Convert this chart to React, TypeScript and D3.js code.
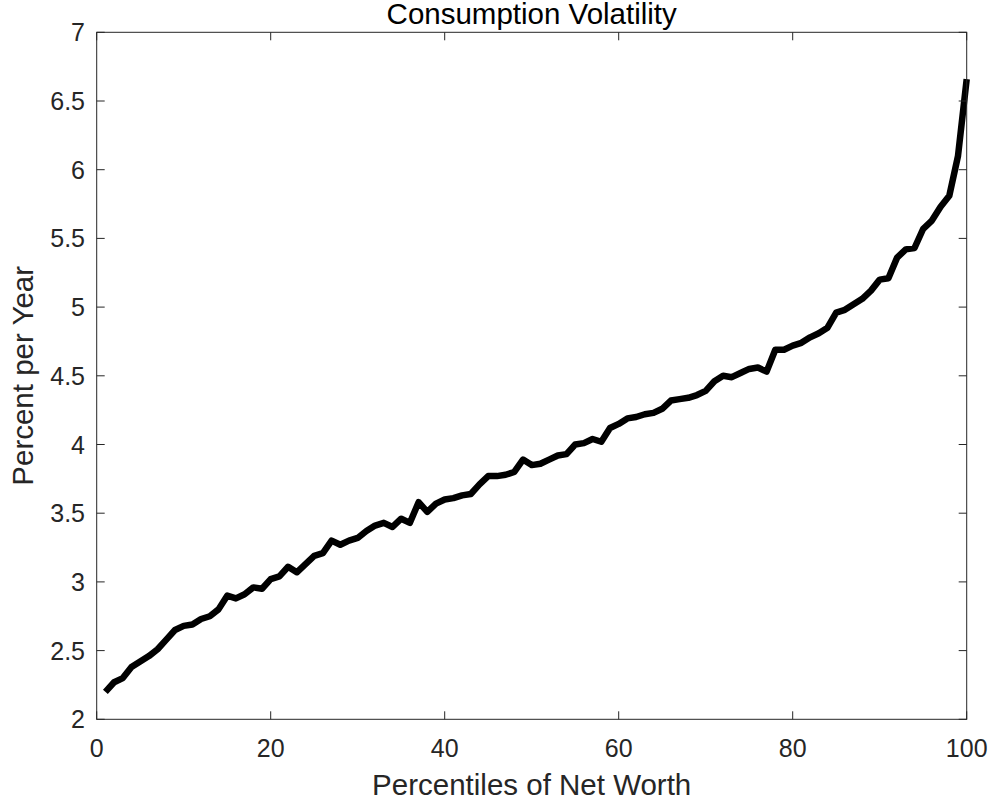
import React from "react";
import * as d3 from "d3";

const percentiles: number[] = Array.from({ length: 100 }, (_, i) => i + 1);
const volatility: number[] = [
  2.20, 2.27, 2.30, 2.38, 2.42, 2.46, 2.51, 2.58, 2.65, 2.68,
  2.69, 2.73, 2.75, 2.80, 2.90, 2.88, 2.91, 2.96, 2.95, 3.02,
  3.04, 3.11, 3.07, 3.13, 3.19, 3.21, 3.30, 3.27, 3.30, 3.32,
  3.37, 3.41, 3.43, 3.40, 3.46, 3.43, 3.58, 3.51, 3.57, 3.60,
  3.61, 3.63, 3.64, 3.71, 3.77, 3.77, 3.78, 3.80, 3.89, 3.85,
  3.86, 3.89, 3.92, 3.93, 4.00, 4.01, 4.04, 4.02, 4.12, 4.15,
  4.19, 4.20, 4.22, 4.23, 4.26, 4.32, 4.33, 4.34, 4.36, 4.39,
  4.46, 4.50, 4.49, 4.52, 4.55, 4.56, 4.53, 4.69, 4.69, 4.72,
  4.74, 4.78, 4.81, 4.85, 4.96, 4.98, 5.02, 5.06, 5.12, 5.20,
  5.21, 5.36, 5.42, 5.43, 5.57, 5.63, 5.73, 5.81, 6.10, 6.66,
];
const xTicks: number[] = [0, 20, 40, 60, 80, 100];
const yTicks: number[] = [2, 2.5, 3, 3.5, 4, 4.5, 5, 5.5, 6, 6.5, 7];
const title = "Consumption Volatility";
const xLabel = "Percentiles of Net Worth";
const yLabel = "Percent per Year";

const W = 995;
const H = 805;
const L = 96.7;
const R = 966.7;
const T = 32.3;
const B = 719.3;
const AX = "#262626";
const FONT = "Arial, 'Liberation Sans', Helvetica, sans-serif";

export default function App() {
  const x = d3.scaleLinear().domain([0, 100]).range([L, R]);
  const y = d3.scaleLinear().domain([2, 7]).range([B, T]);
  const line = d3
    .line<number>()
    .x((_, i) => x(percentiles[i]))
    .y((d) => y(d));
  const tl = 8;
  return (
    <svg
      width={W}
      height={H}
      style={{ position: "absolute", left: 0, top: 0, background: "#fff" }}
      fontFamily={FONT}
    >
      <rect x={0} y={0} width={W} height={H} fill="#fff" />
      <path
        d={line(volatility) || ""}
        fill="none"
        stroke="#000"
        strokeWidth={6.5}
        strokeLinejoin="round"
        strokeLinecap="butt"
      />
      <rect x={L} y={T} width={R - L} height={B - T} fill="none" stroke={AX} strokeWidth={1} />
      {xTicks.map((t) => (
        <g key={"x" + t}>
          <line x1={x(t)} x2={x(t)} y1={B} y2={B - tl} stroke={AX} />
          <line x1={x(t)} x2={x(t)} y1={T} y2={T + tl} stroke={AX} />
          <text x={x(t)} y={757} textAnchor="middle" fontSize={25} fill={AX}>
            {t}
          </text>
        </g>
      ))}
      {yTicks.map((t) => (
        <g key={"y" + t}>
          <line x1={L} x2={L + tl} y1={y(t)} y2={y(t)} stroke={AX} />
          <line x1={R} x2={R - tl} y1={y(t)} y2={y(t)} stroke={AX} />
          <text x={85} y={y(t)} dy="0.36em" textAnchor="end" fontSize={25} fill={AX}>
            {String(t)}
          </text>
        </g>
      ))}
      <text x={(L + R) / 2} y={24} textAnchor="middle" fontSize={29.5} fill="#000">
        {title}
      </text>
      <text x={(L + R) / 2} y={795} textAnchor="middle" fontSize={29.5} fill={AX}>
        {xLabel}
      </text>
      <text
        transform={`translate(33, ${(T + B) / 2}) rotate(-90)`}
        textAnchor="middle"
        fontSize={29.5}
        fill={AX}
      >
        {yLabel}
      </text>
    </svg>
  );
}
